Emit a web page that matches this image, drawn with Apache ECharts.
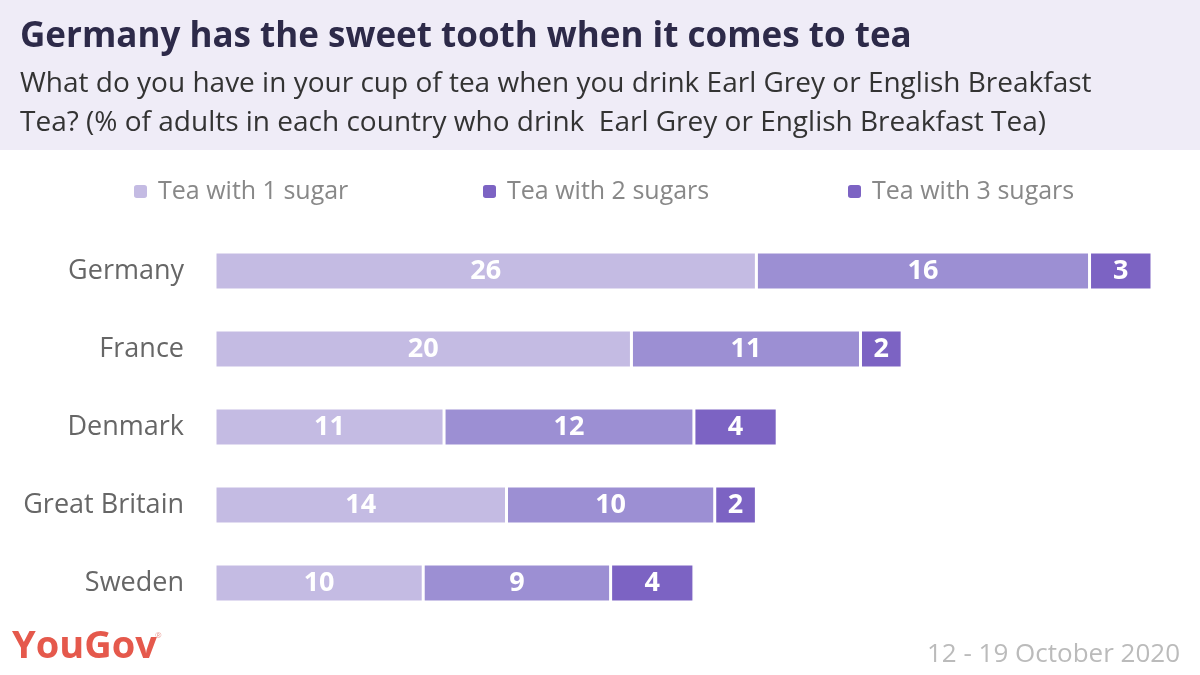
<!DOCTYPE html>
<html><head><meta charset="utf-8">
<script src="https://cdn.jsdelivr.net/npm/echarts@6/dist/echarts.min.js"></script>
<style>html,body{margin:0;padding:0;background:#fff}#c{width:1200px;height:675px}</style>
</head><body><div id="c"></div>
<script>
const countries = ['Germany','France','Denmark','Great Britain','Sweden'];
const seriesNames = ['Tea with 1 sugar','Tea with 2 sugars','Tea with 3 sugars'];
const oneSugar = [26,20,11,14,10];
const twoSugars = [16,11,12,10,9];
const threeSugars = [3,2,4,2,4];
const colors = ['#c4bbe3','#9c8fd3','#7c63c3'];
const legendColors = ['#c4bbe3','#7c63c3','#7c63c3'];

const chart = echarts.init(document.getElementById('c'));
const font = '"Open Sans", Lato, sans-serif';
const dataSets = [oneSugar, twoSugars, threeSugars];
const legendLefts = [132, 481, 846];
chart.setOption({
  animation:false,
  textStyle:{fontFamily:font},
  graphic:[
    {type:'rect',shape:{x:0,y:0,width:1200,height:150},style:{fill:'#efecf7'},z:-1},
    {type:'text',left:20,top:20,style:{text:'Germany has the sweet tooth when it comes to tea',font:'bold 35px '+font,fill:'#2d2a49'}},
    {type:'text',left:20,top:65,style:{text:'What do you have in your cup of tea when you drink Earl Grey or English Breakfast\nTea? (% of adults in each country who drink  Earl Grey or English Breakfast Tea)',font:'28px '+font,fill:'#333',lineHeight:39}},
    {type:'text',left:12,top:628,style:{text:'YouGov',font:'bold 38px '+font,fill:'#e5594c'}},
    {type:'text',left:155,top:632,style:{text:'®',font:'8px '+font,fill:'#e89a92'}},
    {type:'text',right:20,top:642,style:{text:'12 - 19 October 2020',font:'26px '+font,fill:'#bbbbbb'}}
  ],
  legend: seriesNames.map((n,i)=>({
    left:legendLefts[i], top:179, padding:0, itemWidth:15, itemHeight:15,
    textStyle:{fontSize:25,color:'#888',fontFamily:font,padding:[0,0,0,5]},
    data:[{name:n,itemStyle:{color:legendColors[i]}}]
  })),
  grid:{left:215,right:48,top:232,height:390,containLabel:false},
  xAxis:{type:'value',min:0,max:45,show:false},
  yAxis:{type:'category',data:countries,inverse:true,
    axisLine:{show:false},axisTick:{show:false},
    axisLabel:{fontSize:27,color:'#666',margin:31,fontFamily:font}},
  series: seriesNames.map((n,i)=>({
    name:n,type:'bar',stack:'t',barWidth:38,data:dataSets[i],
    itemStyle:{color:colors[i],borderColor:'#fff',borderWidth:1.5},
    label:{show:true,position:'inside',color:'#fff',fontSize:27,fontWeight:'bold',fontFamily:font}
  }))
});
</script></body></html>
